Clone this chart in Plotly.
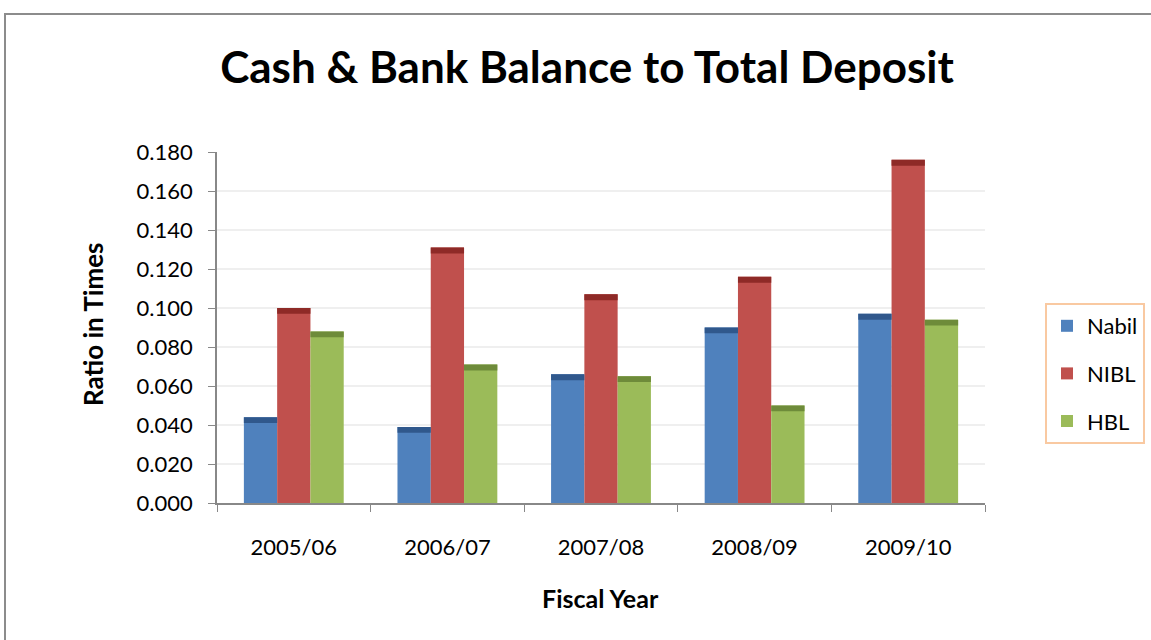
import plotly.graph_objects as go

years = ["2005/06", "2006/07", "2007/08", "2008/09", "2009/10"]
nabil = [0.044, 0.039, 0.066, 0.090, 0.097]
nibl = [0.100, 0.131, 0.107, 0.116, 0.176]
hbl = [0.088, 0.071, 0.065, 0.050, 0.094]
series_names = ["Nabil", "NIBL", "HBL"]
colors = ["#4F81BD", "#C0504D", "#9BBB59"]
top_colors = ["#30588C", "#8E2A27", "#6E8B3A"]
y_ticks = [0.0, 0.02, 0.04, 0.06, 0.08, 0.10, 0.12, 0.14, 0.16, 0.18]
band = 0.003

FONT = "Lato"
W, H = 1151, 640
L, R, T, B = 217, 166, 152, 137
pw, ph = W - L - R, H - T - B

fig = go.Figure()
for i, (name, vals) in enumerate(zip(series_names, [nabil, nibl, hbl])):
    fig.add_trace(go.Bar(
        x=years, y=vals, name=name, legendgroup=name, offsetgroup=name,
        marker=dict(color=colors[i], line=dict(width=0)),
    ))
for i, (name, vals) in enumerate(zip(series_names, [nabil, nibl, hbl])):
    fig.add_trace(go.Bar(
        x=years, y=[band] * len(vals), base=[v - band for v in vals],
        name=name, legendgroup=name, offsetgroup=name, showlegend=False,
        hoverinfo="skip",
        marker=dict(color=top_colors[i], line=dict(width=0)),
    ))

def px2x(p):
    return (p - L) / pw

def px2y(p):
    return (H - B - p) / ph

fig.update_layout(
    width=W, height=H,
    margin=dict(l=L, r=R, t=T, b=B, autoexpand=False),
    paper_bgcolor="white", plot_bgcolor="white",
    barmode="group", bargap=0.35, bargroupgap=0,
    font=dict(family=FONT, size=22, color="black"),
    title=dict(text="<b>Cash &amp; Bank Balance to Total Deposit</b>",
               x=587 / W, xref="container", xanchor="center",
               y=1 - 68 / H, yref="container", yanchor="middle",
               font=dict(family=FONT, size=44, color="black")),
    xaxis=dict(type="category", tickson="boundaries", ticks="outside",
               ticklen=7, tickcolor="#888888", showline=True,
               linecolor="#888888", linewidth=1.5, showgrid=False,
               tickfont=dict(size=22), ticklabelstandoff=24),
    yaxis=dict(range=[0, 0.18], tickvals=y_ticks,
               ticktext=[f"{v:.3f}" for v in y_ticks],
               ticks="outside", ticklen=7, tickcolor="#888888",
               showline=True, linecolor="#888888", linewidth=1.5,
               showgrid=True, gridcolor="#EFEFEF", gridwidth=1.5,
               zeroline=False, tickfont=dict(size=22),
               ticklabelstandoff=11),
    legend=dict(x=px2x(1045), y=px2y(303), xanchor="left", yanchor="top",
                bordercolor="#F9C9A1", borderwidth=2, bgcolor="white",
                font=dict(size=22), tracegroupgap=16,
                itemwidth=30),
    showlegend=True,
    shapes=[dict(type="rect", xref="paper", yref="paper",
                 x0=px2x(5), x1=px2x(1160), y0=px2y(660), y1=px2y(14),
                 line=dict(color="#8C8C8C", width=2), layer="below")],
    annotations=[
        dict(text="<b>Ratio in Times</b>", xref="paper", yref="paper",
             x=px2x(93), y=px2y(325), textangle=-90, showarrow=False,
             xanchor="center", yanchor="middle", font=dict(size=26)),
        dict(text="<b>Fiscal Year</b>", xref="paper", yref="paper",
             x=px2x(600), y=px2y(598), showarrow=False,
             xanchor="center", yanchor="middle", font=dict(size=25)),
    ],
)

fig.write_html("out.html", config={"displayModeBar": False},
               post_script="document.body.style.margin='0px';")
